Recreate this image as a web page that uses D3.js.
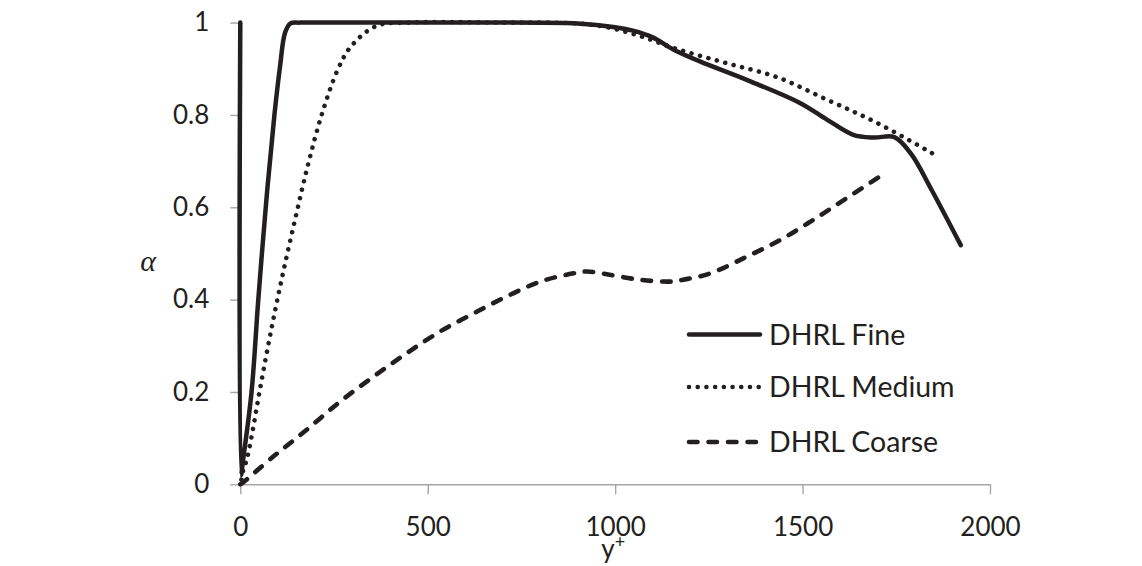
<!DOCTYPE html>
<html>
<head>
<meta charset="utf-8">
<script src="https://cdn.jsdelivr.net/npm/d3@7"></script>
<style>
  body { margin: 0; background: #fff; }
  svg text { font-family: Lato, "Open Sans", sans-serif; fill: #231f20; }
</style>
</head>
<body>
<svg id="chart" width="1142" height="566"></svg>
<script>
// values
const fineX   = [0, 2, 7, 30, 48, 70, 91, 106, 119, 133, 160, 300, 600, 900, 1000, 1050, 1100, 1155, 1226, 1351, 1493, 1565, 1635, 1690, 1745, 1790, 1840, 1922];
const fineY   = [1, 0.02, 0.05, 0.2, 0.4, 0.62, 0.8, 0.905, 0.977, 0.998, 1, 1, 1, 0.998, 0.99, 0.982, 0.968, 0.942, 0.916, 0.876, 0.826, 0.79, 0.757, 0.751, 0.752, 0.715, 0.644, 0.518];
const mediumX = [3, 8, 17, 30, 52, 79, 110, 146, 180, 217, 261, 297, 364, 450, 700, 900, 978, 1066, 1164, 1298, 1431, 1565, 1698, 1850];
const mediumY = [0.01, 0.031, 0.053, 0.103, 0.204, 0.32, 0.443, 0.573, 0.69, 0.8, 0.9, 0.95, 0.993, 1, 1, 0.998, 0.99, 0.971, 0.943, 0.912, 0.882, 0.833, 0.783, 0.715];
const coarseX = [0, 4, 88, 177, 266, 355, 444, 533, 622, 711, 800, 889, 924, 978, 1066, 1146, 1174, 1254, 1351, 1440, 1529, 1618, 1720];
const coarseY = [0, 0.002, 0.06, 0.118, 0.179, 0.233, 0.284, 0.331, 0.37, 0.407, 0.439, 0.457, 0.461, 0.455, 0.443, 0.439, 0.442, 0.457, 0.493, 0.529, 0.573, 0.62, 0.674];
const seriesNames = ["DHRL Fine", "DHRL Medium", "DHRL Coarse"];
const xTicks = [0, 500, 1000, 1500, 2000];
const yTicks = [0, 0.2, 0.4, 0.6, 0.8, 1];

const series = [
  { name: seriesNames[0], xs: fineX, ys: fineY, dash: null },
  { name: seriesNames[1], xs: mediumX, ys: mediumY, dash: "0.01 8.7" },
  { name: seriesNames[2], xs: coarseX, ys: coarseY, dash: "8.5 11" }
];

const svg = d3.select("#chart");

const x = d3.scaleLinear().domain([0, 2000]).range([240.3, 990]);
const y = d3.scaleLinear().domain([0, 1]).range([484.3, 22.6]);

const axisColor = "#a6a6a6";
const ink = "#231f20";

// axes
const gx = svg.append("g")
  .attr("transform", "translate(0," + y(0) + ")")
  .call(d3.axisBottom(x).tickValues(xTicks).tickSizeInner(10).tickSizeOuter(0).tickPadding(23).tickFormat(d3.format("d")));

const gy = svg.append("g")
  .attr("transform", "translate(" + x(0) + ",0)")
  .call(d3.axisLeft(y).tickValues(yTicks).tickSizeInner(10).tickSizeOuter(0).tickPadding(21).tickFormat(d => d === 0 || d === 1 ? String(d) : d.toFixed(1)));

[gx, gy].forEach(function (g) {
  g.selectAll("path, line").attr("stroke", axisColor).attr("stroke-width", 1.4);
  g.selectAll("text").attr("font-size", 26).attr("fill", ink)
    .style("font-family", "Lato, 'Open Sans', sans-serif");
});

// axis titles
const xTitle = svg.append("text")
  .attr("x", x(1000) - 2)
  .attr("y", 558)
  .attr("text-anchor", "middle")
  .attr("font-size", 26);
xTitle.append("tspan").text("y");
xTitle.append("tspan").attr("font-size", 18).attr("dy", -10).text("+");

svg.append("text")
  .attr("x", 148)
  .attr("y", 262)
  .attr("dy", "0.3em")
  .attr("text-anchor", "middle")
  .attr("font-size", 30)
  .attr("font-style", "italic")
  .style("font-family", "'Liberation Serif', 'DejaVu Serif', serif")
  .text("α");

// curves
const line = d3.line()
  .x(d => x(d[0]))
  .y(d => y(d[1]))
  .curve(d3.curveCatmullRom.alpha(0.5));

svg.append("g")
  .selectAll("path")
  .data(series)
  .enter()
  .append("path")
  .attr("fill", "none")
  .attr("stroke", ink)
  .attr("stroke-width", d => d.dash ? 4.6 : 4.5)
  .attr("stroke-linecap", "round")
  .attr("stroke-linejoin", "round")
  .attr("stroke-dasharray", d => d.dash)
  .attr("d", d => line(d.xs.map((v, i) => [v, d.ys[i]])));

// legend
const legendY = [334.5, 387, 442];
const legend = svg.append("g")
  .selectAll("g")
  .data(series)
  .enter()
  .append("g")
  .attr("transform", (d, i) => "translate(689," + legendY[i] + ")");

legend.append("line")
  .attr("x1", 0)
  .attr("x2", 71)
  .attr("stroke", ink)
  .attr("stroke-width", d => d.dash ? 4.6 : 4.5)
  .attr("stroke-linecap", "round")
  .attr("stroke-dasharray", d => d.dash);

legend.append("text")
  .attr("x", 80)
  .attr("dy", "0.36em")
  .attr("font-size", 28.5)
  .text(d => d.name);
</script>
</body>
</html>
